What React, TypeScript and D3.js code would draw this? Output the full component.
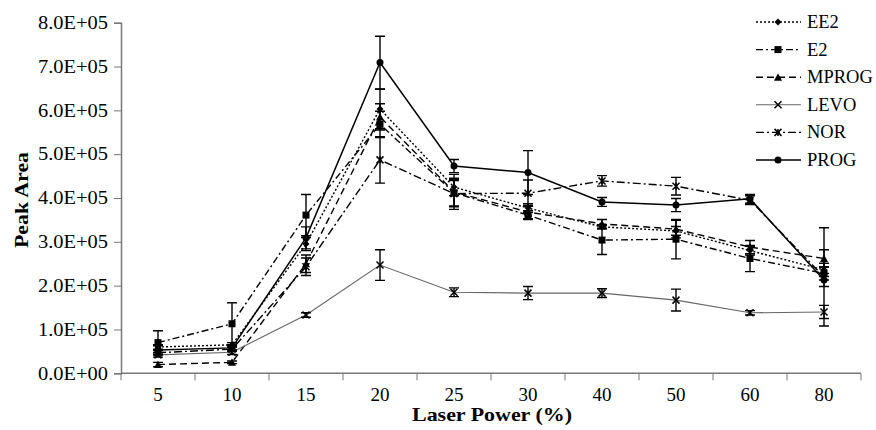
import { useEffect, useRef } from "react";
import * as d3 from "d3";

// laser power settings (x categories)
const powers = ["5", "10", "15", "20", "25", "30", "40", "50", "60", "80"];

// peak areas, in units of 1E+05
const ee2 = [0.6, 0.65, 2.95, 6.03, 4.25, 3.77, 3.34, 3.25, 2.8, 2.36];
const e2 = [0.7, 1.13, 3.61, 5.68, 4.12, 3.61, 3.04, 3.06, 2.62, 2.28];
const mprog = [0.2, 0.25, 2.5, 5.85, 4.14, 3.68, 3.41, 3.29, 2.88, 2.62];
const levo = [0.42, 0.48, 1.33, 2.47, 1.85, 1.83, 1.83, 1.67, 1.38, 1.4];
const nor = [0.47, 0.55, 2.43, 4.87, 4.1, 4.11, 4.39, 4.27, 3.95, 2.2];
const prog = [0.53, 0.58, 3.09, 7.09, 4.73, 4.58, 3.91, 3.84, 3.98, 2.13];

// error bar half-widths, 1E+05
const ee2Err = [0.05, 0.05, 0.15, 0.45, 0.2, 0.1, 0.05, 0.1, 0.1, 0.15];
const e2Err = [0.27, 0.48, 0.47, 0.3, 0.3, 0.1, 0.33, 0.45, 0.3, 0.15];
const mprogErr = [0.05, 0.03, 0.2, 0.3, 0.4, 0.15, 0.1, 0.2, 0.15, 0.2];
const levoErr = [0.05, 0.05, 0.05, 0.35, 0.1, 0.15, 0.1, 0.25, 0.05, 0.15];
const norErr = [0.05, 0.05, 0.2, 0.53, 0.3, 0.3, 0.12, 0.2, 0.1, 1.12];
const progErr = [0.1, 0.05, 0.25, 0.6, 0.15, 0.5, 0.1, 0.15, 0.1, 0.15];

const yTicks = [0, 1, 2, 3, 4, 5, 6, 7, 8];
const yTickLabels = ["0.0E+00", "1.0E+05", "2.0E+05", "3.0E+05", "4.0E+05", "5.0E+05", "6.0E+05", "7.0E+05", "8.0E+05"];

const series = [
  { name: "EE2", values: ee2, err: ee2Err, dash: "2,2", marker: "diamond", color: "#000", width: 1.4 },
  { name: "E2", values: e2, err: e2Err, dash: "7,3,2,3", marker: "square", color: "#000", width: 1.4 },
  { name: "MPROG", values: mprog, err: mprogErr, dash: "7,4", marker: "triangle", color: "#000", width: 1.4 },
  { name: "LEVO", values: levo, err: levoErr, dash: null, marker: "x", color: "#666", width: 1.1 },
  { name: "NOR", values: nor, err: norErr, dash: "8,3,2,3", marker: "star", color: "#000", width: 1.4 },
  { name: "PROG", values: prog, err: progErr, dash: null, marker: "circle", color: "#000", width: 1.5 },
];

const font = "Liberation Serif";

function drawMarker(g, kind, cx, cy) {
  const s = 3.5;
  if (kind === "diamond") {
    g.append("path").attr("d", `M${cx},${cy - s}L${cx + s},${cy}L${cx},${cy + s}L${cx - s},${cy}Z`).attr("fill", "#000");
  } else if (kind === "square") {
    g.append("rect").attr("x", cx - s).attr("y", cy - s).attr("width", 2 * s).attr("height", 2 * s).attr("fill", "#000");
  } else if (kind === "triangle") {
    g.append("path").attr("d", `M${cx},${cy - s - 0.5}L${cx + s + 0.5},${cy + s}L${cx - s - 0.5},${cy + s}Z`).attr("fill", "#000");
  } else if (kind === "circle") {
    g.append("circle").attr("cx", cx).attr("cy", cy).attr("r", s).attr("fill", "#000");
  } else {
    const p = `M${cx - s},${cy - s}L${cx + s},${cy + s}M${cx - s},${cy + s}L${cx + s},${cy - s}` +
      (kind === "star" ? `M${cx},${cy - s}L${cx},${cy + s}` : "");
    g.append("path").attr("d", p).attr("stroke", "#000").attr("stroke-width", 1.5).attr("fill", "none");
  }
}

export default function App() {
  const ref = useRef(null);

  useEffect(() => {
    const svg = d3.select(ref.current);
    svg.selectAll("*").remove();

    const x = d3.scaleBand().domain(powers).range([121, 861]).padding(0);
    const cx = (c) => x(c) + x.bandwidth() / 2;
    const y = d3.scaleLinear().domain([0, 8]).range([373.3, 22.7]);

    // y axis
    const ya = svg.append("g").attr("transform", "translate(121,0)")
      .call(d3.axisLeft(y).tickValues(yTicks).tickSize(7).tickPadding(6)
        .tickFormat((d, i) => yTickLabels[i]));
    ya.select(".domain").attr("stroke", "#777").attr("stroke-width", 1.5);
    ya.selectAll("line").attr("stroke", "#777");
    ya.selectAll("text").attr("font-family", font).attr("font-size", 18).attr("fill", "#000")
      .attr("textLength", 70).attr("lengthAdjust", "spacingAndGlyphs");

    // x axis, ticks on the band edges
    const xa = svg.append("g");
    xa.append("line").attr("x1", 121).attr("x2", 861).attr("y1", y(0)).attr("y2", y(0))
      .attr("stroke", "#777").attr("stroke-width", 1.5);
    const edges = powers.map((c) => x(c)).concat([x(powers[powers.length - 1]) + x.bandwidth()]);
    xa.selectAll(".tick").data(edges).join("line")
      .attr("x1", (d) => d).attr("x2", (d) => d)
      .attr("y1", y(0)).attr("y2", y(0) + 7).attr("stroke", "#777");
    xa.selectAll(".lbl").data(powers).join("text")
      .attr("x", (d) => cx(d)).attr("y", 401).attr("text-anchor", "middle")
      .attr("font-family", font).attr("font-size", 19).text((d) => d);

    svg.append("text").attr("x", 492).attr("y", 421).attr("text-anchor", "middle")
      .attr("font-family", font).attr("font-size", 19).attr("font-weight", "bold")
      .attr("textLength", 160).attr("lengthAdjust", "spacingAndGlyphs")
      .text("Laser Power (%)");
    svg.append("text").attr("transform", "translate(28,200) rotate(-90)").attr("text-anchor", "middle")
      .attr("font-family", font).attr("font-size", 19).attr("font-weight", "bold")
      .attr("textLength", 96).attr("lengthAdjust", "spacingAndGlyphs")
      .text("Peak Area");

    const line = d3.line().x((d) => cx(d.c)).y((d) => y(d.v));

    series.forEach((s) => {
      const pts = powers.map((c, i) => ({ c, v: s.values[i], e: s.err[i] }));
      const g = svg.append("g");
      g.append("path").attr("d", line(pts)).attr("fill", "none")
        .attr("stroke", s.color).attr("stroke-width", s.width)
        .attr("stroke-dasharray", s.dash);
      pts.forEach((p) => {
        const px = cx(p.c);
        const y1 = y(p.v + p.e), y2 = y(p.v - p.e);
        g.append("path")
          .attr("d", `M${px},${y1}L${px},${y2}M${px - 5},${y1}L${px + 5},${y1}M${px - 5},${y2}L${px + 5},${y2}`)
          .attr("stroke", "#000").attr("stroke-width", 1.4).attr("fill", "none");
        drawMarker(g, s.marker, px, y(p.v));
      });
    });

    // legend
    const lg = svg.append("g");
    series.forEach((s, i) => {
      const ly = 22 + i * 27.6;
      lg.append("line").attr("x1", 756).attr("x2", 801).attr("y1", ly).attr("y2", ly)
        .attr("stroke", s.color).attr("stroke-width", s.width).attr("stroke-dasharray", s.dash);
      drawMarker(lg, s.marker, 778, ly);
      lg.append("text").attr("x", 807).attr("y", ly + 6)
        .attr("font-family", font).attr("font-size", 18.5).text(s.name);
    });
  }, []);

  return (
    <svg ref={ref} width={876} height={430}
      style={{ position: "absolute", left: 0, top: 0, background: "#fff" }} />
  );
}
